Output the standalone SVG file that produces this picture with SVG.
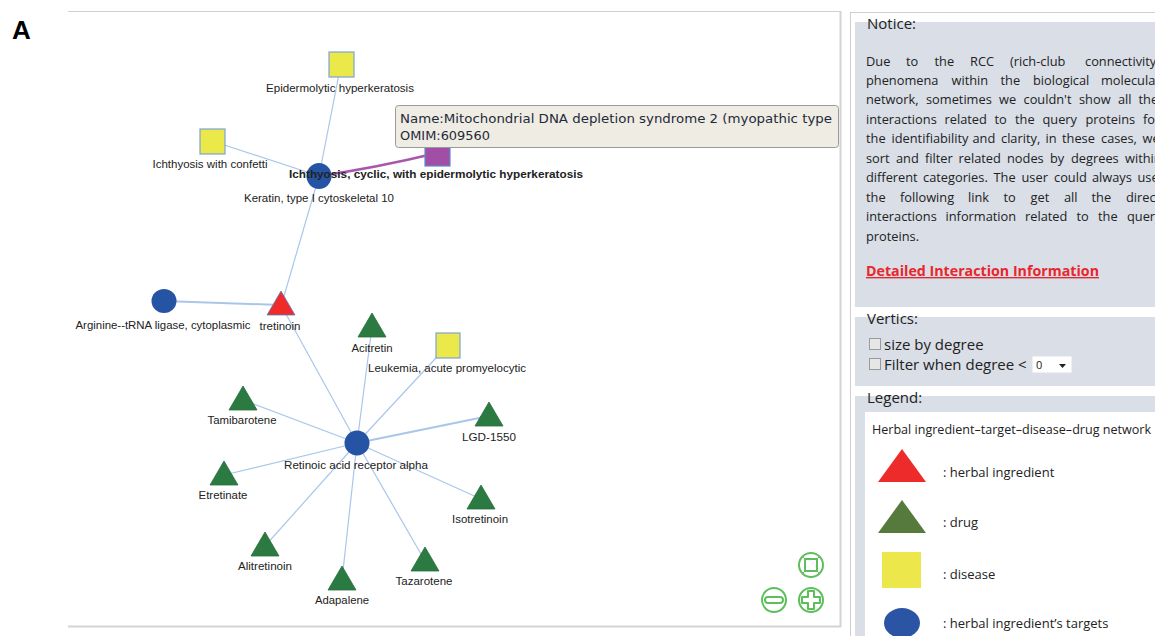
<svg xmlns="http://www.w3.org/2000/svg" width="1155" height="636" viewBox="0 0 1155 636">
<defs>
<style>
.edge{stroke:#a9c6ea;stroke-width:1.2;fill:none}
.lbl{font-family:"Liberation Sans",Arial,sans-serif;font-size:11px;fill:#222;text-anchor:middle}
.tgt{fill:#2654a4}
.dis{fill:#ebe84a;stroke:#7ba4d8;stroke-width:1.2}
.drug{fill:#2a7a42;stroke:#2b6d3c;stroke-width:0.8}
.ui{font-family:"Open Sans","Noto Sans",sans-serif;fill:#222}
.para{font-family:"Open Sans","Noto Sans",sans-serif;font-size:12.8px;fill:#222}
.zbtn{fill:#fff;stroke:#5cbf5c;stroke-width:2}
</style>
</defs>
<rect width="1155" height="636" fill="#fff"/>
<text x="12" y="39" font-family="Liberation Sans,Arial,sans-serif" font-weight="bold" font-size="26" fill="#000">A</text>

<!-- left panel frame -->
<g id="frame">
<line x1="68" y1="11.5" x2="841" y2="11.5" stroke="#cfcfcf" stroke-width="1.2"/>
<line x1="840.5" y1="11" x2="840.5" y2="627" stroke="#d3d3d3" stroke-width="2"/>
<line x1="68" y1="626.5" x2="841" y2="626.5" stroke="#d3d3d3" stroke-width="2"/>
</g>

<!-- connectors -->
<g id="connectors">
<line class="edge" x1="319" y1="176" x2="341" y2="64"/>
<line class="edge" x1="319" y1="176" x2="212" y2="141"/>
<line class="edge" x1="319" y1="176" x2="282" y2="303"/>
<line class="edge" x1="164" y1="301" x2="281" y2="305" style="stroke-width:2"/>
<line class="edge" x1="357" y1="443" x2="281" y2="305"/>
<line class="edge" x1="357" y1="443" x2="372" y2="327"/>
<line class="edge" x1="357" y1="443" x2="448" y2="345"/>
<line class="edge" x1="357" y1="443" x2="243" y2="400"/>
<line class="edge" x1="357" y1="443" x2="489" y2="416" style="stroke-width:1.8"/>
<line class="edge" x1="357" y1="443" x2="224" y2="475"/>
<line class="edge" x1="357" y1="443" x2="481" y2="499"/>
<line class="edge" x1="357" y1="443" x2="265" y2="546"/>
<line class="edge" x1="357" y1="443" x2="425" y2="561"/>
<line class="edge" x1="357" y1="443" x2="342" y2="580"/>
<path d="M319,176 Q375,168 437,153" fill="none" stroke="#a857aa" stroke-width="2.6"/>
</g>

<!-- nodes -->
<g id="n-epidermolytic"><rect class="dis" x="329" y="52" width="25" height="25"/><text class="lbl" x="340" y="92" textLength="148" lengthAdjust="spacingAndGlyphs">Epidermolytic hyperkeratosis</text></g>
<g id="n-confetti"><rect class="dis" x="200" y="129" width="25" height="25"/><text class="lbl" x="210" y="168" textLength="115" lengthAdjust="spacingAndGlyphs">Ichthyosis with confetti</text></g>
<g id="n-mito"><rect x="425" y="141" width="25" height="25" fill="#a24ea6" stroke="#5d8bcf" stroke-width="1.2"/></g>
<g id="n-keratin"><ellipse class="tgt" cx="319" cy="176" rx="12.5" ry="13"/><text class="lbl" x="319" y="202" textLength="150" lengthAdjust="spacingAndGlyphs">Keratin, type I cytoskeletal 10</text>
<text class="lbl" x="436" y="178" font-weight="bold" textLength="294" lengthAdjust="spacingAndGlyphs">Ichthyosis, cyclic, with epidermolytic hyperkeratosis</text></g>
<g id="n-arginine"><ellipse class="tgt" cx="164" cy="301" rx="12.5" ry="12"/><text class="lbl" x="163" y="329" textLength="175" lengthAdjust="spacingAndGlyphs">Arginine--tRNA ligase, cytoplasmic</text></g>
<g id="n-tretinoin"><polygon points="281,291 295,315 267,315" fill="#ee2a2a" stroke="#5a7fc0" stroke-width="0.8"/><text class="lbl" x="280" y="330" textLength="41" lengthAdjust="spacingAndGlyphs">tretinoin</text></g>
<g id="n-acitretin"><polygon class="drug" points="372,313 386,337 358,337"/><text class="lbl" x="372" y="352" textLength="41" lengthAdjust="spacingAndGlyphs">Acitretin</text></g>
<g id="n-leukemia"><rect class="dis" x="436" y="333" width="24" height="25"/><text class="lbl" x="447" y="372" textLength="158" lengthAdjust="spacingAndGlyphs">Leukemia, acute promyelocytic</text></g>
<g id="n-tamibarotene"><polygon class="drug" points="243,386 257,410 229,410"/><text class="lbl" x="242" y="424" textLength="69" lengthAdjust="spacingAndGlyphs">Tamibarotene</text></g>
<g id="n-lgd"><polygon class="drug" points="489,402 503,426 475,426"/><text class="lbl" x="489" y="441" textLength="54" lengthAdjust="spacingAndGlyphs">LGD-1550</text></g>
<g id="n-rara"><ellipse class="tgt" cx="357" cy="443" rx="12.5" ry="12.5"/><text class="lbl" x="356" y="469" textLength="144" lengthAdjust="spacingAndGlyphs">Retinoic acid receptor alpha</text></g>
<g id="n-etretinate"><polygon class="drug" points="224,461 238,485 210,485"/><text class="lbl" x="223" y="499" textLength="49" lengthAdjust="spacingAndGlyphs">Etretinate</text></g>
<g id="n-isotretinoin"><polygon class="drug" points="481,485 495,509 467,509"/><text class="lbl" x="480" y="523" textLength="56" lengthAdjust="spacingAndGlyphs">Isotretinoin</text></g>
<g id="n-alitretinoin"><polygon class="drug" points="265,532 279,556 251,556"/><text class="lbl" x="265" y="570" textLength="54" lengthAdjust="spacingAndGlyphs">Alitretinoin</text></g>
<g id="n-tazarotene"><polygon class="drug" points="425,547 439,571 411,571"/><text class="lbl" x="424" y="585" textLength="57" lengthAdjust="spacingAndGlyphs">Tazarotene</text></g>
<g id="n-adapalene"><polygon class="drug" points="342,566 356,590 328,590"/><text class="lbl" x="342" y="604" textLength="54" lengthAdjust="spacingAndGlyphs">Adapalene</text></g>

<!-- tooltip -->
<g id="tooltip">
<rect x="395.5" y="105.5" width="443" height="42" rx="3" fill="#efece4" stroke="#9a9a9a" stroke-width="1"/>
<text x="400" y="123" font-family="DejaVu Sans,Verdana,sans-serif" font-size="13" fill="#1f2a3a" textLength="432" lengthAdjust="spacingAndGlyphs">Name:Mitochondrial DNA depletion syndrome 2 (myopathic type</text>
<text x="400" y="140" font-family="DejaVu Sans,Verdana,sans-serif" font-size="13" fill="#1f2a3a" textLength="90" lengthAdjust="spacingAndGlyphs">OMIM:609560</text>
</g>

<!-- zoom controls -->
<g id="zoom-fit">
<circle class="zbtn" cx="811" cy="565" r="12"/>
<rect x="805" y="559" width="12" height="12" fill="none" stroke="#5cbf5c" stroke-width="2"/>
<path d="M802,556 l3,3 M820,556 l-3,3 M802,574 l3,-3 M820,574 l-3,-3" stroke="#999" stroke-width="1"/>
</g>
<g id="zoom-out">
<circle class="zbtn" cx="774" cy="600" r="12"/>
<rect x="765" y="597" width="18" height="6" rx="3" fill="#fff" stroke="#5cbf5c" stroke-width="2"/>
</g>
<g id="zoom-in">
<circle class="zbtn" cx="811" cy="600" r="12"/>
<path d="M808,591 h6 v6 h6 v6 h-6 v6 h-6 v-6 h-6 v-6 h6 z" fill="#fff" stroke="#5cbf5c" stroke-width="2" stroke-linejoin="round"/>
</g>

<!-- right panel -->
<g id="side-panel">
<rect x="850.5" y="12.5" width="320" height="640" fill="#fff" stroke="#cfcfcf" stroke-width="1"/>
<rect x="855" y="22" width="310" height="285" fill="#d9dee7"/>
<rect x="855" y="317" width="310" height="69" fill="#d9dee7"/>
<rect x="855" y="396" width="310" height="250" fill="#d9dee7"/>
<rect x="865" y="412" width="300" height="240" fill="#fff"/>
</g>

<g id="notice">
<text class="ui" x="867" y="29" font-size="15">Notice:</text>
<text class="para" y="66"><tspan x="866">Due</tspan><tspan x="906">to</tspan><tspan x="934.5">the</tspan><tspan x="970">RCC</tspan><tspan x="1010">(rich-club</tspan><tspan x="1085">connectivity</tspan></text>
<text class="para" y="85"><tspan x="866">phenomena</tspan><tspan x="951.5">within</tspan><tspan x="1000.5">the</tspan><tspan x="1033">biological</tspan><tspan x="1101">molecular</tspan></text>
<text class="para" y="104"><tspan x="866">network,</tspan><tspan x="926">sometimes</tspan><tspan x="999">we</tspan><tspan x="1023.5">couldn't</tspan><tspan x="1079">show</tspan><tspan x="1118">all</tspan><tspan x="1138.5">the</tspan></text>
<text class="para" y="124"><tspan x="866">interactions</tspan><tspan x="944.5">related</tspan><tspan x="994.5">to</tspan><tspan x="1015">the</tspan><tspan x="1042.5">query</tspan><tspan x="1085.5">proteins</tspan><tspan x="1143">for</tspan></text>
<text class="para" y="143"><tspan x="866">the</tspan><tspan x="891.5">identifiability</tspan><tspan x="972.5">and</tspan><tspan x="1001">clarity,</tspan><tspan x="1045.5">in</tspan><tspan x="1062">these</tspan><tspan x="1101">cases,</tspan><tspan x="1142.5">we</tspan></text>
<text class="para" y="163"><tspan x="866">sort</tspan><tspan x="896">and</tspan><tspan x="925">filter</tspan><tspan x="958.5">related</tspan><tspan x="1007">nodes</tspan><tspan x="1050">by</tspan><tspan x="1071">degrees</tspan><tspan x="1125">within</tspan></text>
<text class="para" y="182"><tspan x="866">different</tspan><tspan x="923">categories.</tspan><tspan x="993.5">The</tspan><tspan x="1021.5">user</tspan><tspan x="1054">could</tspan><tspan x="1092">always</tspan><tspan x="1137.5">use</tspan></text>
<text class="para" y="202"><tspan x="866">the</tspan><tspan x="900">following</tspan><tspan x="968">link</tspan><tspan x="1003.5">to</tspan><tspan x="1030.5">get</tspan><tspan x="1064">all</tspan><tspan x="1091.5">the</tspan><tspan x="1126">direct</tspan></text>
<text class="para" y="221"><tspan x="866">interactions</tspan><tspan x="945.5">information</tspan><tspan x="1025">related</tspan><tspan x="1076.5">to</tspan><tspan x="1098">the</tspan><tspan x="1127">query</tspan></text>
<text class="para" x="866" y="241">proteins.</text>
<text x="866" y="276" font-family="Open Sans,Noto Sans,sans-serif" font-size="13.5" font-weight="bold" fill="#e8262b" text-decoration="underline" textLength="233" lengthAdjust="spacingAndGlyphs">Detailed Interaction Information</text>
</g>

<g id="vertics">
<text class="ui" x="867" y="324" font-size="15">Vertics:</text>
<rect x="869.5" y="338.5" width="11" height="11" fill="#e6e6e6" stroke="#9a9a9a"/>
<text class="ui" x="884" y="350" font-size="15">size by degree</text>
<rect x="869.5" y="358.5" width="11" height="11" fill="#e6e6e6" stroke="#9a9a9a"/>
<text class="ui" x="884" y="370" font-size="15">Filter when degree &lt;</text>
<rect x="1032" y="356" width="40" height="17" fill="#fff" stroke="#e0e0e0"/>
<text x="1036" y="369" font-family="Open Sans,Noto Sans,sans-serif" font-size="11" fill="#222">0</text>
<polygon points="1059,364 1066,364 1062.5,368" fill="#222"/>
</g>

<g id="legend">
<text class="ui" x="867" y="403" font-size="15">Legend:</text>
<text class="ui" x="872" y="434" font-size="12" textLength="279" lengthAdjust="spacingAndGlyphs">Herbal ingredient–target–disease–drug network</text>
<polygon points="902,449 926,482 878,482" fill="#ee2b2b"/>
<text class="ui" x="943" y="477" font-size="13">: herbal ingredient</text>
<polygon points="902,500 926,533 878,533" fill="#567a3c"/>
<text class="ui" x="943" y="527" font-size="13">: drug</text>
<rect x="882" y="552" width="39" height="36" fill="#ece84c"/>
<text class="ui" x="943" y="579" font-size="13">: disease</text>
<ellipse cx="902" cy="623" rx="18" ry="15" fill="#2b55a4"/>
<text class="ui" x="943" y="628" font-size="13">: herbal ingredient’s targets</text>
</g>
</svg>
